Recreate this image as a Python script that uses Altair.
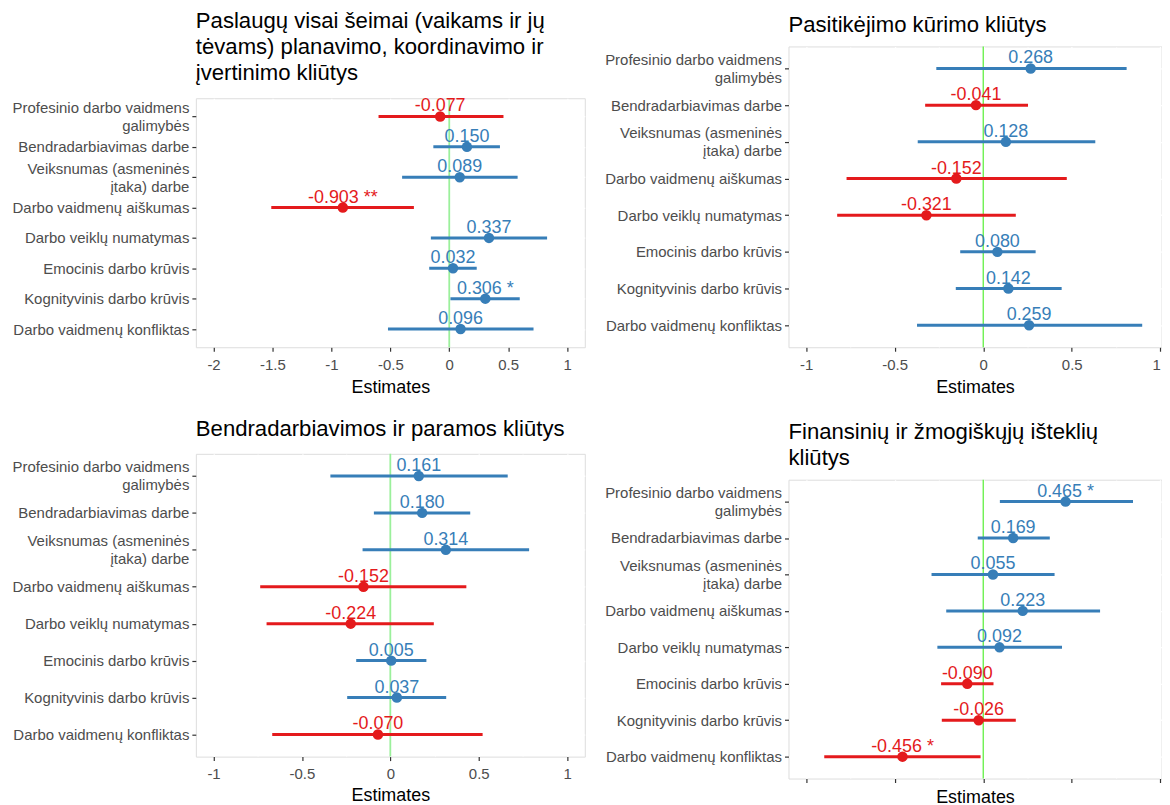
import altair as alt
import pandas as pd

FONT = "Liberation Sans"
RED = "#E41A1C"
BLUE = "#377EB8"

terms = [
    "Profesinio darbo vaidmens|galimybės",
    "Bendradarbiavimas darbe",
    "Veiksnumas (asmeninės|įtaka) darbe",
    "Darbo vaidmenų aiškumas",
    "Darbo veiklų numatymas",
    "Emocinis darbo krūvis",
    "Kognityvinis darbo krūvis",
    "Darbo vaidmenų konfliktas",
]

# Panel 1: Paslaugų visai šeimai ... planavimo, koordinavimo ir įvertinimo kliūtys
p1_title = ["Paslaugų visai šeimai (vaikams ir jų", "tėvams) planavimo, koordinavimo ir", "įvertinimo kliūtys"]
p1_est = [-0.077, 0.150, 0.089, -0.903, 0.337, 0.032, 0.306, 0.096]
p1_lo = [-0.60, -0.135, -0.40, -1.51, -0.156, -0.17, 0.01, -0.52]
p1_hi = [0.46, 0.43, 0.58, -0.30, 0.83, 0.233, 0.598, 0.715]
p1_sig = ["", "", "", "**", "", "", "*", ""]

# Panel 2: Pasitikėjimo kūrimo kliūtys
p2_title = ["Pasitikėjimo kūrimo kliūtys"]
p2_est = [0.268, -0.041, 0.128, -0.152, -0.321, 0.080, 0.142, 0.259]
p2_lo = [-0.265, -0.328, -0.37, -0.772, -0.825, -0.13, -0.155, -0.374]
p2_hi = [0.81, 0.253, 0.633, 0.472, 0.184, 0.296, 0.443, 0.898]
p2_sig = ["", "", "", "", "", "", "", ""]

# Panel 3: Bendradarbiavimos ir paramos kliūtys
p3_title = ["Bendradarbiavimos ir paramos kliūtys"]
p3_est = [0.161, 0.180, 0.314, -0.152, -0.224, 0.005, 0.037, -0.070]
p3_lo = [-0.339, -0.093, -0.157, -0.736, -0.70, -0.193, -0.244, -0.668]
p3_hi = [0.664, 0.452, 0.785, 0.43, 0.246, 0.204, 0.316, 0.522]
p3_sig = ["", "", "", "", "", "", "", ""]

# Panel 4: Finansinių ir žmogiškųjų išteklių kliūtys
p4_title = ["Finansinių ir žmogiškųjų išteklių", "kliūtys"]
p4_est = [0.465, 0.169, 0.055, 0.223, 0.092, -0.090, -0.026, -0.456]
p4_lo = [0.094, -0.031, -0.292, -0.209, -0.259, -0.238, -0.234, -0.898]
p4_hi = [0.846, 0.376, 0.403, 0.66, 0.445, 0.058, 0.184, -0.015]
p4_sig = ["*", "", "", "", "", "", "", "*"]

p1_ticks = [-2, -1.75, -1.5, -1.25, -1, -0.75, -0.5, -0.25, 0, 0.25, 0.5, 0.75, 1]
pX_ticks = [-1, -0.75, -0.5, -0.25, 0, 0.25, 0.5, 0.75, 1]

MAJOR = "abs(datum.value*2 - round(datum.value*2)) < 0.001"
MULTI = "indexof(datum.value, '|') >= 0"


def make_df(est, lo, hi, sig):
    rows = []
    for t, e, l, h, s in zip(terms, est, lo, hi, sig):
        lab = f"{e:.3f}" + (f" {s}" if s else "")
        rows.append({"term": t, "est": e, "lo": l, "hi": h, "label": lab,
                     "dir": "neg" if e < 0 else "pos"})
    return pd.DataFrame(rows)


def panel(title, est, lo, hi, sig, domain, ticks, width, height,
          show_labels=True, green="#9BF09B", green_w=1.8, title_pad=6, title_off=13):
    df = make_df(est, lo, hi, sig)
    xscale = alt.Scale(domain=domain, nice=False, zero=False)
    xaxis = alt.Axis(
        values=ticks, title="Estimates", grid=True, gridColor="white",
        gridWidth={"condition": {"test": MAJOR, "value": 1.3}, "value": 0.6},
        tickSize={"condition": {"test": MAJOR, "value": 4}, "value": 0},
        labelExpr=f"({MAJOR}) ? ('' + datum.value) : ''",
        labels=show_labels, labelFlush=3, tickColor="#333333", tickWidth=1.2,
        domain=False, labelFont=FONT, labelFontSize=15, labelColor="#4D4D4D",
        labelPadding=6, titleFont=FONT, titleFontSize=18, titleFontWeight="normal",
        titleColor="black", titlePadding=title_pad,
    )
    yscale = alt.Scale(type="point", padding=0.6, domain=terms)
    yaxis = alt.Axis(
        title=None, grid=True, gridColor="white", gridWidth=1.3,
        domain=False, tickColor="#333333", tickSize=4, tickWidth=1.2,
        labelFont=FONT, labelFontSize=15, labelColor="#4D4D4D",
        labelPadding=3, labelLimit=0, labelLineHeight=18,
        labelOffset={"condition": {"test": MULTI, "value": -9}, "value": 0},
        labelExpr="split(datum.label, '|')",
    )
    color = alt.Color("dir:N", scale=alt.Scale(domain=["neg", "pos"], range=[RED, BLUE]), legend=None)
    base = alt.Chart(df)
    zero = alt.Chart(pd.DataFrame({"z": [0]})).mark_rule(color=green, strokeWidth=green_w).encode(
        x=alt.X("z:Q", scale=xscale, axis=xaxis)
    )
    bars = base.mark_rule(strokeWidth=3).encode(
        x=alt.X("lo:Q", scale=xscale, axis=xaxis), x2="hi:Q",
        y=alt.Y("term:N", scale=yscale, axis=yaxis, sort=terms), color=color,
    )
    pts = base.mark_circle(size=110, opacity=1).encode(
        x=alt.X("est:Q", scale=xscale), y=alt.Y("term:N", scale=yscale, sort=terms), color=color,
    )
    txt = base.mark_text(dy=-10, fontSize=18, font=FONT, align="center", baseline="middle").encode(
        x=alt.X("est:Q", scale=xscale), y=alt.Y("term:N", scale=yscale, sort=terms),
        text="label:N", color=color,
    )
    return alt.layer(zero, bars, pts, txt).properties(
        width=width, height=height,
        title=alt.TitleParams(text=title, anchor="start", frame="group", font=FONT,
                              fontSize=22.2, fontWeight="normal", color="black",
                              lineHeight=26, offset=title_off),
    )


def spacer(h):
    # invisible cell so that each column's first title starts at a chosen top
    return alt.Chart(pd.DataFrame({"a": [0]})).mark_point(size=0, opacity=0).encode(
        x=alt.X("a:Q", axis=None), y=alt.Y("a:Q", axis=None)
    ).properties(width=1, height=h, view=alt.ViewBackground(fill=None, stroke=None))


c1 = panel(p1_title, p1_est, p1_lo, p1_hi, p1_sig, [-2.15, 1.15], p1_ticks, 390.5, 250)
c2 = panel(p2_title, p2_est, p2_lo, p2_hi, p2_sig, [-1.1, 1.007], pX_ticks, 374.5, 302,
           green="#55EE33", green_w=1.2, title_off=10)
c3 = panel(p3_title, p3_est, p3_lo, p3_hi, p3_sig, [-1.1, 1.1], pX_ticks, 390.5, 304, title_pad=5)
c4 = panel(p4_title, p4_est, p4_lo, p4_hi, p4_sig, [-1.1, 1.007], pX_ticks, 374.5, 300,
           show_labels=False, green="#55EE33", green_w=1.2, title_pad=5, title_off=10)

col1 = alt.vconcat(spacer(1), alt.vconcat(c1, c3, spacing=20), spacing=0)
col2 = alt.vconcat(spacer(4), alt.vconcat(c2, c4, spacing=23), spacing=0)
chart = alt.hconcat(col1, col2, spacing=18).properties(
    padding={"left": 2.6, "top": -1, "right": 0, "bottom": 0}
).configure_view(fill="#EBEBEB", stroke=None).configure(background="white")

chart.save("out.html", embed_options={"renderer": "svg", "actions": False})
